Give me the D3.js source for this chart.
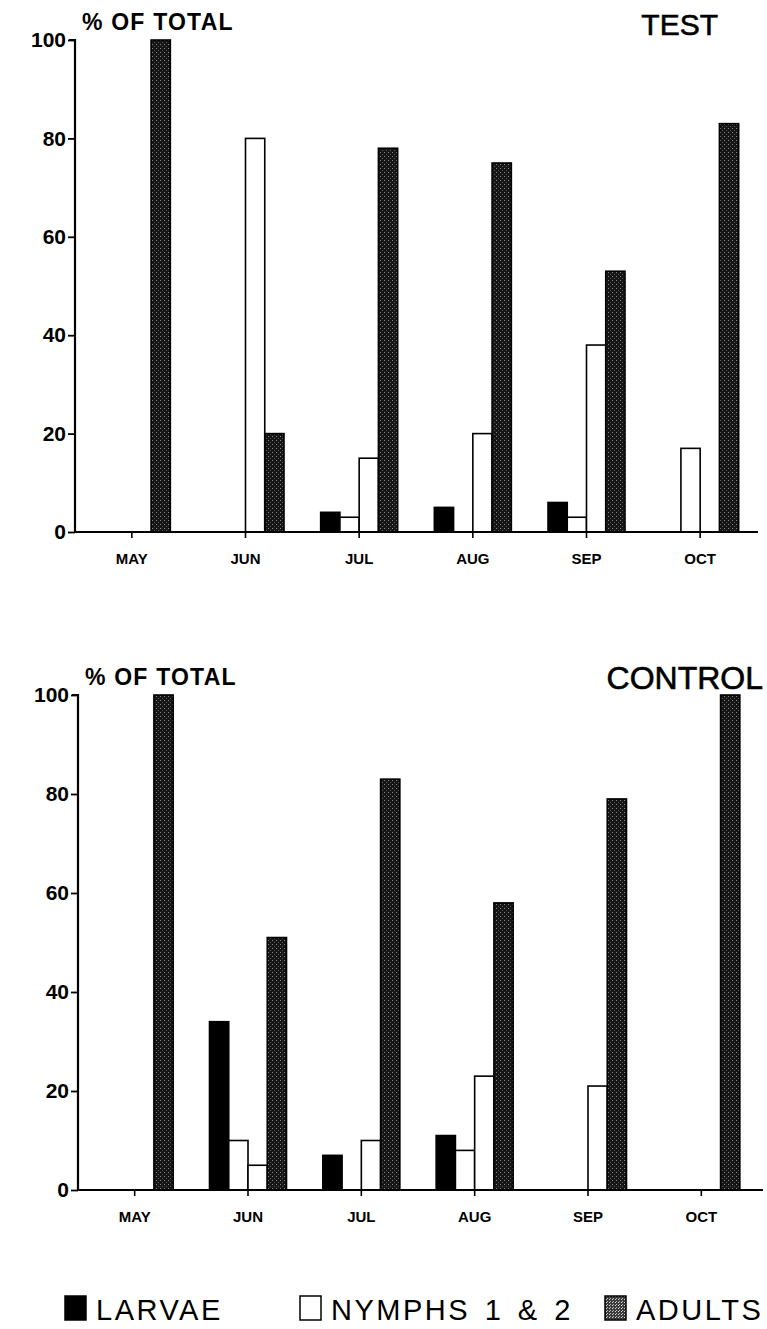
<!DOCTYPE html>
<html><head><meta charset="utf-8">
<script src="https://cdn.jsdelivr.net/npm/d3@7"></script>
<style>
body{margin:0;background:#fff;}
svg{display:block;}
text{font-family:"Liberation Sans",Arial,sans-serif;fill:#000;}
</style></head>
<body>
<script>
const months = ["MAY","JUN","JUL","AUG","SEP","OCT"];
const series = ["LARVAE","NYMPHS 1","NYMPHS 2","ADULTS"];
const yTicks = [0,20,40,60,80,100];
// TEST panel
const testLarvae  = [0, 0, 4, 5, 6, 0];
const testNymph1  = [0, 0, 3, 0, 3, 17];
const testNymph2  = [0, 80, 15, 20, 38, 0];
const testAdults  = [100, 20, 78, 75, 53, 83];
// CONTROL panel
const ctrlLarvae  = [0, 34, 7, 11, 0, 0];
const ctrlNymph1  = [0, 10, 0, 8, 0, 0];
const ctrlNymph2  = [0, 5, 10, 23, 21, 0];
const ctrlAdults  = [100, 51, 83, 58, 79, 100];
const legendLabels = ["LARVAE","NYMPHS 1 & 2","ADULTS"];

const W = 767, H = 1329;
const svg = d3.select("body").append("svg").attr("width", W).attr("height", H);

const defs = svg.append("defs");
const pat = defs.append("pattern").attr("id","stip").attr("patternUnits","userSpaceOnUse")
  .attr("width",4).attr("height",4);
pat.append("rect").attr("width",4).attr("height",4).attr("fill","#161616");
pat.append("rect").attr("x",0).attr("y",0).attr("width",1).attr("height",1).attr("fill","#8a8a8a");
pat.append("rect").attr("x",2).attr("y",2).attr("width",1).attr("height",1).attr("fill","#5a5a5a");
const pat2 = defs.append("pattern").attr("id","stipL").attr("patternUnits","userSpaceOnUse")
  .attr("width",3).attr("height",3);
pat2.append("rect").attr("width",3).attr("height",3).attr("fill","#3a3a3a");
pat2.append("rect").attr("x",0).attr("y",0).attr("width",1).attr("height",1).attr("fill","#d8d8d8");
pat2.append("rect").attr("x",1).attr("y",2).attr("width",1).attr("height",1).attr("fill","#bbbbbb");

const fills = ["#000","#fff","#fff","url(#stip)"];

function panel(cfg){
  const x = d3.scaleBand().domain(months).range([cfg.x0, cfg.x1]).padding(0);
  const y = d3.scaleLinear().domain([0,100]).range([cfg.yb, cfg.yt]);
  const sub = d3.scaleBand().domain(series).range([0, 77]).padding(0);
  const g = svg.append("g");
  const data = [];
  months.forEach((m,i)=>{
    cfg.vals.forEach((arr,k)=>{
      data.push({m, s:series[k], k, v:arr[i]});
    });
  });
  g.selectAll("rect.bar").data(data.filter(d=>d.v>0)).join("rect")
    .attr("class","bar")
    .attr("x", d=> x(d.m) + x.bandwidth()/2 - 38.5 + sub(d.s))
    .attr("width", sub.bandwidth())
    .attr("y", d=> y(d.v))
    .attr("height", d=> y(0)-y(d.v))
    .attr("fill", d=> fills[d.k])
    .attr("stroke", "#000").attr("stroke-width", 1.6);

  // y axis
  const ya = g.append("g").attr("transform",`translate(${cfg.x0},0)`)
    .call(d3.axisLeft(y).tickValues(yTicks).tickSize(7).tickPadding(2));
  ya.select(".domain").attr("stroke-width",2.2).attr("d", `M-6,${y(100)}H0V${y(0)}`);
  ya.selectAll(".tick line").attr("stroke-width",1.8);
  ya.selectAll(".tick text").attr("font-size",21).attr("font-weight","bold")
    .attr("font-family","'Liberation Sans',Arial,sans-serif").attr("fill","#000");

  // x axis
  const xa = g.append("g").attr("transform",`translate(0,${cfg.yb})`)
    .call(d3.axisBottom(x).tickSize(6).tickPadding(15));
  xa.select(".domain").attr("stroke-width",2.2).attr("d", `M${cfg.x0},0H${cfg.xEnd}`);
  xa.selectAll(".tick line").attr("stroke-width",1.6);
  xa.selectAll(".tick text").attr("font-size",15).attr("font-weight","bold")
    .attr("font-family","'Liberation Sans',Arial,sans-serif").attr("fill","#000");

  g.append("text").attr("x", cfg.x0+7).attr("y", cfg.yt-10)
    .attr("font-size",23).attr("font-family","'DejaVu Sans',sans-serif").attr("font-weight","bold")
    .attr("letter-spacing","1.2")
    .text("% OF TOTAL");
  g.append("text").attr("x", cfg.tx).attr("y", cfg.ty)
    .attr("font-size",cfg.tfs).attr("text-anchor","end")
    .attr("stroke","#000").attr("stroke-width",0.6)
    .text(cfg.title);
}

panel({x0:75, x1:757, xEnd:758, yt:40, yb:532, vals:[testLarvae,testNymph1,testNymph2,testAdults],
  title:"TEST", tx:718, ty:35, tfs:30});
panel({x0:78, x1:758, xEnd:763, yt:695, yb:1190, vals:[ctrlLarvae,ctrlNymph1,ctrlNymph2,ctrlAdults],
  title:"CONTROL", tx:763, ty:689, tfs:32});

// legend
const leg = svg.append("g");
const legX = [65, 300, 605];
const legFill = ["#000","#fff","url(#stipL)"];
legendLabels.forEach((t,i)=>{
  leg.append("rect").attr("x",legX[i]).attr("y",1296).attr("width",21).attr("height",24)
    .attr("fill",legFill[i]).attr("stroke","#000").attr("stroke-width",1.5);
  leg.append("text").attr("x",legX[i]+31).attr("y",1320).attr("font-size",29)
    .attr("letter-spacing","2.5").attr("word-spacing","4").text(t);
});
</script>
</body></html>
